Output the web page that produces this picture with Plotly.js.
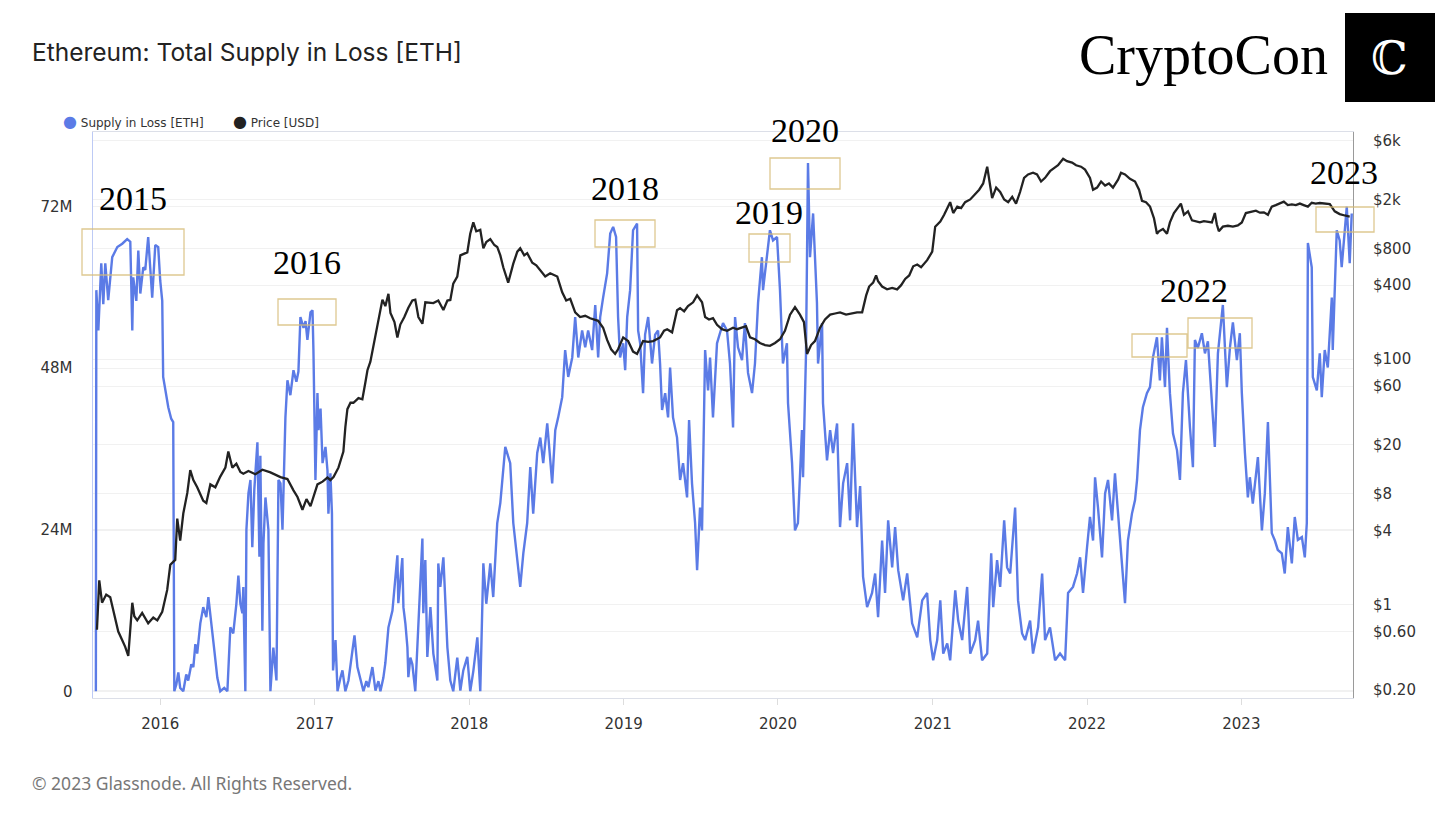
<!DOCTYPE html>
<html>
<head>
<meta charset="utf-8">
<script src="https://cdn.plot.ly/plotly-3.0.1.min.js"></script>
<style>
  html, body { margin: 0; padding: 0; background: #ffffff; }
  #chart { width: 1456px; height: 819px; }
</style>
</head>
<body>
<div id="chart"></div>
<script>
// ---------------- DATA (decimal year, value) ----------------
// Supply in Loss, millions of ETH
const supplyInLoss = [
[2015.583,0],[2015.586,59.6],[2015.599,53.6],[2015.618,63.6],[2015.631,57.5],[2015.644,63.6],[2015.663,58.1],[2015.689,64.5],
[2015.722,66],[2015.754,66.5],[2015.786,67.2],[2015.806,66.8],[2015.819,53.6],[2015.825,61.5],[2015.845,58],[2015.858,65.5],
[2015.871,59.1],[2015.890,63],[2015.903,62.6],[2015.922,67.5],[2015.935,63],[2015.948,58.5],[2015.968,66.3],[2015.987,66],
[2016.000,61],[2016.013,58],[2016.019,46.7],[2016.039,44],[2016.052,42.2],[2016.071,40.5],[2016.084,40],[2016.091,0],
[2016.104,1],[2016.117,2.8],[2016.129,0.5],[2016.149,0],[2016.168,2.5],[2016.181,1.6],[2016.201,4],[2016.214,3.6],
[2016.227,7],[2016.239,5.6],[2016.259,10.1],[2016.278,12.5],[2016.298,11],[2016.311,14],[2016.324,11],[2016.337,9],
[2016.350,6],[2016.369,2],[2016.388,0],[2016.414,0.5],[2016.434,0],[2016.453,9.5],[2016.472,8.6],[2016.492,13],
[2016.505,17.2],[2016.518,13],[2016.531,11.6],[2016.537,15.5],[2016.550,0],[2016.557,24],[2016.570,29.4],[2016.583,31.4],
[2016.595,21.4],[2016.608,30],[2016.628,37],[2016.641,20],[2016.647,35],[2016.660,9],[2016.667,22],[2016.680,28.8],
[2016.699,24],[2016.712,0],[2016.731,6.5],[2016.751,1.6],[2016.764,31.4],[2016.777,30.9],[2016.790,24],[2016.809,40.7],
[2016.822,46.2],[2016.841,44],[2016.861,47.7],[2016.880,46],[2016.893,47.5],[2016.906,55.6],[2016.926,54],[2016.939,55],
[2016.951,52.2],[2016.971,56.3],[2016.984,56.6],[2016.990,50.7],[2017.003,31.4],[2017.016,44.3],[2017.023,38.8],[2017.036,42],
[2017.049,33.9],[2017.068,36.3],[2017.081,32.8],[2017.087,26.4],[2017.100,32.4],[2017.110,26.4],[2017.117,3.1],[2017.133,7.6],
[2017.146,0],[2017.165,2],[2017.178,3.1],[2017.197,0],[2017.217,1.6],[2017.243,6.1],[2017.256,8.3],[2017.275,3.6],
[2017.294,1.6],[2017.314,0],[2017.333,1.5],[2017.346,0.6],[2017.372,3.6],[2017.392,0.1],[2017.411,1.5],[2017.424,0],
[2017.443,2],[2017.456,4.2],[2017.476,9.5],[2017.502,12],[2017.521,16.9],[2017.534,20.2],[2017.540,13.1],[2017.553,17],
[2017.566,19.8],[2017.573,12.5],[2017.586,10],[2017.599,6.5],[2017.605,2.1],[2017.618,5],[2017.631,4],[2017.650,0],
[2017.670,11],[2017.696,22.7],[2017.702,11.6],[2017.715,19.5],[2017.728,5.1],[2017.748,12.5],[2017.767,5.6],[2017.793,1.6],
[2017.799,19],[2017.812,15.5],[2017.832,19.9],[2017.845,12.5],[2017.858,6.5],[2017.877,1.6],[2017.896,0],[2017.922,5],
[2017.942,0.1],[2017.961,3.1],[2017.987,5.1],[2018.006,0],[2018.026,3],[2018.052,8],[2018.071,0],[2018.091,19],
[2018.110,13],[2018.136,19],[2018.155,14],[2018.181,25],[2018.201,28],[2018.233,36.3],[2018.265,33.9],[2018.285,25],
[2018.311,19.9],[2018.330,15.5],[2018.350,20.5],[2018.375,25],[2018.395,33.3],[2018.414,26.4],[2018.440,35.4],[2018.460,37.7],
[2018.479,33.9],[2018.505,39.8],[2018.537,30.9],[2018.557,38.8],[2018.576,40.7],[2018.602,43.7],[2018.621,50.7],[2018.641,46.7],
[2018.667,49.6],[2018.686,55.6],[2018.706,49.6],[2018.731,53.6],[2018.751,51.1],[2018.770,53.6],[2018.796,50.7],[2018.816,57.4],
[2018.835,49.6],[2018.848,55.6],[2018.867,58.5],[2018.893,62.1],[2018.913,68],[2018.932,69],[2018.951,67.5],[2018.964,55.6],
[2018.977,49.6],[2018.997,51.7],[2019.010,47.7],[2019.023,55.6],[2019.042,59.6],[2019.061,68.5],[2019.087,69.5],[2019.094,53.6],
[2019.107,51.7],[2019.126,44.3],[2019.139,53],[2019.159,55.6],[2019.184,48.7],[2019.204,53],[2019.223,53.6],[2019.236,48.7],
[2019.249,41.8],[2019.269,44.3],[2019.288,40.7],[2019.301,48.1],[2019.320,40.7],[2019.346,37.7],[2019.366,31.4],[2019.385,33.9],
[2019.411,28.8],[2019.424,40.3],[2019.443,30.9],[2019.463,25],[2019.476,18],[2019.495,27.3],[2019.508,23.9],[2019.528,50.7],
[2019.547,44.7],[2019.560,49.6],[2019.579,40.7],[2019.605,51.7],[2019.624,53.2],[2019.644,54.7],[2019.670,53.6],[2019.689,48.7],
[2019.709,39.2],[2019.722,55.6],[2019.741,51.1],[2019.767,49.2],[2019.786,54.7],[2019.806,47.3],[2019.832,44.3],[2019.851,48.7],
[2019.871,57.7],[2019.896,64.5],[2019.903,59.6],[2019.929,64.5],[2019.948,68.5],[2019.968,67],[2019.994,67.5],[2020.013,59.6],
[2020.026,52.6],[2020.032,48.7],[2020.058,51.7],[2020.065,42.8],[2020.091,33.9],[2020.110,23.9],[2020.129,25],[2020.155,38.8],
[2020.162,31.8],[2020.181,50],[2020.194,78.5],[2020.207,64.5],[2020.227,71],[2020.239,63.6],[2020.252,57.7],[2020.259,48.7],
[2020.285,54.7],[2020.291,42.8],[2020.317,34.3],[2020.337,38.8],[2020.356,35.4],[2020.382,39.8],[2020.401,24.4],[2020.421,30.9],
[2020.447,33.9],[2020.466,25.4],[2020.485,39.8],[2020.511,24.4],[2020.531,30.5],[2020.550,17],[2020.576,12.5],[2020.608,14.6],
[2020.628,17.5],[2020.647,11],[2020.673,22.4],[2020.692,14.6],[2020.712,25.4],[2020.738,18.4],[2020.757,24.4],[2020.777,18],
[2020.809,13.5],[2020.835,17.5],[2020.867,10.1],[2020.900,8],[2020.932,13.5],[2020.964,14.6],[2020.984,7.6],[2021.003,4.6],
[2021.029,7.6],[2021.049,13.5],[2021.068,5.6],[2021.094,7.1],[2021.113,4.6],[2021.146,15],[2021.165,10.5],[2021.191,7.6],
[2021.223,15.5],[2021.243,5.6],[2021.275,7.6],[2021.294,10.5],[2021.320,4.6],[2021.353,5.6],[2021.379,20.5],[2021.392,12.5],
[2021.417,19.5],[2021.437,15.5],[2021.463,25.4],[2021.482,18.4],[2021.502,17.5],[2021.534,27.3],[2021.553,13.5],[2021.579,8.6],
[2021.599,7.6],[2021.631,10.5],[2021.650,5.6],[2021.683,9.5],[2021.709,17.5],[2021.728,7.6],[2021.760,9.5],[2021.793,4.6],
[2021.825,5.6],[2021.858,4.6],[2021.877,14.6],[2021.909,15.5],[2021.935,17.5],[2021.955,19.9],[2021.974,14.6],[2022.000,21.4],
[2022.019,25.9],[2022.039,22.4],[2022.052,31.8],[2022.071,27.3],[2022.097,19.9],[2022.117,29.4],[2022.136,31.4],[2022.162,25.4],
[2022.181,32.4],[2022.201,26.4],[2022.227,18.4],[2022.246,13.1],[2022.265,22.4],[2022.291,26.4],[2022.311,28.4],[2022.324,31.4],
[2022.343,38.8],[2022.362,42.2],[2022.388,44.3],[2022.408,45.2],[2022.427,49.6],[2022.453,52.6],[2022.472,46.2],[2022.485,52.6],
[2022.505,45.2],[2022.518,54],[2022.537,44.3],[2022.557,38.3],[2022.583,35.8],[2022.602,31.4],[2022.621,44.3],[2022.641,49.2],
[2022.667,39.2],[2022.686,33.3],[2022.699,52.2],[2022.718,51],[2022.744,53.2],[2022.764,50.2],[2022.783,52],[2022.809,43.2],
[2022.828,36.3],[2022.848,50.2],[2022.874,56.2],[2022.880,57.4],[2022.906,45.2],[2022.926,51.1],[2022.945,54.8],[2022.971,49.2],
[2022.990,53.2],[2023.003,44.3],[2023.023,35.4],[2023.042,28.8],[2023.055,31.8],[2023.074,27.9],[2023.107,34.8],[2023.133,23.9],
[2023.152,29.4],[2023.172,40],[2023.197,23.5],[2023.217,22.4],[2023.236,21],[2023.262,20.5],[2023.281,17.5],[2023.301,24.4],
[2023.327,19],[2023.346,25.9],[2023.366,22.5],[2023.392,22.9],[2023.411,19.9],[2023.424,25],[2023.431,66.6],[2023.456,63],
[2023.463,46.7],[2023.489,44.7],[2023.508,50.2],[2023.521,43.7],[2023.540,50.7],[2023.560,48.1],[2023.586,58.5],[2023.592,50.7],
[2023.618,68.5],[2023.637,67],[2023.650,63],[2023.670,69],[2023.683,72],[2023.702,63.6],[2023.715,71]
];

// ETH price, USD
const priceUSD = [
[2015.590,0.62],[2015.605,1.57],[2015.623,1.03],[2015.650,1.2],[2015.676,1.14],[2015.696,0.87],[2015.728,0.6],[2015.754,0.51],
[2015.773,0.45],[2015.793,0.38],[2015.819,1.03],[2015.832,0.8],[2015.851,0.74],[2015.883,0.85],[2015.922,0.7],[2015.955,0.78],
[2015.981,0.74],[2016.013,0.87],[2016.045,1.31],[2016.065,2.1],[2016.097,2.3],[2016.110,5.0],[2016.129,3.3],[2016.149,5.5],
[2016.175,8.1],[2016.194,12.4],[2016.214,10.3],[2016.239,9],[2016.278,7],[2016.298,6.7],[2016.324,9.5],[2016.356,9],
[2016.388,11],[2016.421,13],[2016.440,17.6],[2016.466,13],[2016.492,14],[2016.518,12],[2016.537,11.6],[2016.570,12.2],
[2016.615,11.5],[2016.660,12.5],[2016.712,11.9],[2016.777,10.9],[2016.822,10.5],[2016.861,8.5],[2016.887,7.5],[2016.919,5.9],
[2016.945,7.2],[2016.971,6.3],[2016.997,8],[2017.016,9.5],[2017.049,10],[2017.081,10.8],[2017.100,10.3],[2017.120,10.9],
[2017.152,13],[2017.184,17.6],[2017.197,28],[2017.210,39],[2017.230,44],[2017.249,44],[2017.282,48],[2017.307,47],
[2017.327,65],[2017.340,81],[2017.359,95],[2017.379,128],[2017.405,180],[2017.417,230],[2017.437,305],[2017.456,270],
[2017.476,340],[2017.489,237],[2017.515,200],[2017.534,150],[2017.553,191],[2017.579,220],[2017.605,262],[2017.631,300],
[2017.650,305],[2017.670,220],[2017.696,194],[2017.715,290],[2017.748,290],[2017.767,286],[2017.799,300],[2017.832,251],
[2017.858,300],[2017.877,303],[2017.896,412],[2017.922,470],[2017.942,700],[2017.961,720],[2017.987,740],[2018.006,1050],
[2018.026,1300],[2018.045,1100],[2018.071,1130],[2018.091,800],[2018.110,900],[2018.136,950],[2018.162,850],[2018.181,820],
[2018.201,700],[2018.220,560],[2018.252,420],[2018.285,600],[2018.311,750],[2018.330,800],[2018.356,700],[2018.375,730],
[2018.408,610],[2018.434,580],[2018.460,530],[2018.492,470],[2018.524,500],[2018.570,470],[2018.602,350],[2018.628,300],
[2018.654,310],[2018.686,240],[2018.718,220],[2018.751,225],[2018.783,215],[2018.835,205],[2018.867,180],[2018.893,143],
[2018.919,120],[2018.945,110],[2018.964,120],[2018.997,150],[2019.029,140],[2019.061,115],[2019.087,110],[2019.126,140],
[2019.159,138],[2019.191,140],[2019.236,150],[2019.262,170],[2019.282,175],[2019.314,165],[2019.346,250],[2019.366,260],
[2019.392,245],[2019.417,270],[2019.450,290],[2019.476,330],[2019.508,290],[2019.528,220],[2019.553,210],[2019.579,215],
[2019.605,190],[2019.637,175],[2019.670,170],[2019.709,180],[2019.735,175],[2019.767,180],[2019.793,185],[2019.819,150],
[2019.851,145],[2019.883,135],[2019.916,130],[2019.948,128],[2019.981,135],[2020.013,145],[2020.045,170],[2020.078,230],
[2020.110,265],[2020.142,230],[2020.168,200],[2020.188,110],[2020.214,130],[2020.239,140],[2020.272,180],[2020.304,210],
[2020.337,230],[2020.369,235],[2020.401,240],[2020.440,230],[2020.479,235],[2020.511,240],[2020.544,240],[2020.570,330],
[2020.589,390],[2020.615,420],[2020.634,480],[2020.647,430],[2020.673,390],[2020.705,370],[2020.738,380],[2020.770,370],
[2020.796,400],[2020.822,450],[2020.848,480],[2020.874,570],[2020.900,590],[2020.925,560],[2020.964,640],[2020.997,750],
[2021.016,1200],[2021.049,1320],[2021.074,1500],[2021.094,1700],[2021.113,1900],[2021.133,1550],[2021.159,1750],[2021.184,1700],
[2021.210,1900],[2021.243,2000],[2021.275,2200],[2021.301,2400],[2021.327,2700],[2021.353,3700],[2021.372,2600],[2021.385,2050],
[2021.411,2500],[2021.437,2300],[2021.463,2000],[2021.489,1900],[2021.515,2100],[2021.540,1850],[2021.566,2300],[2021.592,3000],
[2021.618,3200],[2021.650,3300],[2021.676,3200],[2021.702,2800],[2021.728,3000],[2021.760,3400],[2021.786,3600],[2021.812,3800],
[2021.845,4300],[2021.870,4100],[2021.903,4000],[2021.929,3800],[2021.961,3700],[2021.987,3500],[2022.019,3000],[2022.039,2400],
[2022.065,2500],[2022.091,2800],[2022.117,2600],[2022.142,2700],[2022.168,2500],[2022.201,2900],[2022.220,3300],[2022.246,3200],
[2022.278,2950],[2022.311,2800],[2022.337,2400],[2022.356,1950],[2022.382,1900],[2022.408,1750],[2022.434,1400],[2022.453,1050],
[2022.466,1100],[2022.492,1150],[2022.518,1050],[2022.537,1300],[2022.563,1550],[2022.589,1700],[2022.608,1850],[2022.628,1500],
[2022.654,1600],[2022.680,1350],[2022.706,1320],[2022.731,1300],[2022.757,1330],[2022.783,1320],[2022.809,1300],[2022.828,1550],
[2022.841,1250],[2022.854,1100],[2022.880,1200],[2022.913,1220],[2022.945,1200],[2022.977,1230],[2023.003,1300],[2023.029,1550],
[2023.061,1580],[2023.094,1620],[2023.120,1560],[2023.146,1570],[2023.172,1500],[2023.197,1750],[2023.223,1800],[2023.249,1850],
[2023.275,1920],[2023.301,1800],[2023.327,1820],[2023.353,1800],[2023.379,1850],[2023.404,1800],[2023.431,1750],[2023.456,1880],
[2023.482,1850],[2023.508,1870],[2023.540,1840],[2023.573,1830],[2023.605,1600],[2023.637,1520],[2023.670,1480],[2023.702,1450]
];

const xTickYears = ['2016','2017','2018','2019','2020','2021','2022','2023'];
const supplyTickVals = [0, 24, 48, 72];
const supplyTickText = ['0', '24M', '48M', '72M'];
const priceTickVals = [6000, 2000, 800, 400, 100, 60, 20, 8, 4, 1, 0.6, 0.2];
const priceTickText = ['$6k', '$2k', '$800', '$400', '$100', '$60', '$20', '$8', '$4', '$1', '$0.60', '$0.20'];

// Highlight annotations (year label + box), in page pixels
const highlightLabels = [
  {text:'2015', x:133, y:198}, {text:'2016', x:307, y:262}, {text:'2018', x:625, y:188},
  {text:'2019', x:769, y:212}, {text:'2020', x:805, y:130}, {text:'2022', x:1194, y:290},
  {text:'2023', x:1344, y:173}
];
const highlightBoxes = [
  [82,184,229,275],[278,336,299,325],[595,655,220,247],[749,790,234,262],
  [770,840,158,189],[1132,1187,334,357],[1188,1252,318,348],[1316,1374,207,232]
];

// ---------------- helpers ----------------
function decYearToDate(t) {
  const y = Math.floor(t);
  const s = Date.UTC(y, 0, 1), e = Date.UTC(y + 1, 0, 1);
  return new Date(s + (t - y) * (e - s)).toISOString().slice(0, 19).replace('T', ' ');
}
const W = 1456, H = 819;
const M = {l: 93, r: 103, t: 132, b: 121};
const PW = W - M.l - M.r, PH = H - M.t - M.b;
const px2x = px => (px - M.l) / PW;
const px2y = py => (H - M.b - py) / PH;

const BLUE = '#5b7be6';
const traces = [
  {
    x: supplyInLoss.map(p => decYearToDate(p[0])),
    y: supplyInLoss.map(p => p[1]),
    type: 'scatter', mode: 'lines', name: 'Supply in Loss [ETH]',
    line: {color: BLUE, width: 2.4}, yaxis: 'y', showlegend: false, hoverinfo: 'skip'
  },
  {
    x: priceUSD.map(p => decYearToDate(p[0])),
    y: priceUSD.map(p => p[1]),
    type: 'scatter', mode: 'lines', name: 'Price [USD]',
    line: {color: '#222222', width: 2.3}, yaxis: 'y2', showlegend: false, hoverinfo: 'skip'
  }
];

const tickFont = {family: '"DejaVu Sans", sans-serif', size: 15, color: '#333'};

const annotations = [
  {text: 'Ethereum: Total Supply in Loss [ETH]', xref: 'paper', yref: 'paper', x: px2x(30), y: px2y(52),
   xanchor: 'left', yanchor: 'middle', showarrow: false,
   font: {family: 'Inter, "DejaVu Sans", sans-serif', size: 24.5, color: '#222'}},
  {text: '<span style="color:' + BLUE + ';font-size:16px">●</span> Supply in Loss [ETH]', xref: 'paper', yref: 'paper',
   x: px2x(61), y: px2y(121), xanchor: 'left', yanchor: 'middle', showarrow: false,
   font: {family: '"DejaVu Sans", sans-serif', size: 12, color: '#333'}},
  {text: '<span style="color:#222;font-size:16px">●</span> Price [USD]', xref: 'paper', yref: 'paper',
   x: px2x(231), y: px2y(121), xanchor: 'left', yanchor: 'middle', showarrow: false,
   font: {family: '"DejaVu Sans", sans-serif', size: 12, color: '#333'}},
  {text: '© 2023 Glassnode. All Rights Reserved.', xref: 'paper', yref: 'paper', x: px2x(30), y: px2y(783),
   xanchor: 'left', yanchor: 'middle', showarrow: false,
   font: {family: '"Noto Sans", "DejaVu Sans", sans-serif', size: 17.5, color: '#777'}},
  {text: 'CryptoCon', xref: 'paper', yref: 'paper', x: px2x(1203), y: px2y(55),
   xanchor: 'center', yanchor: 'middle', showarrow: false,
   font: {family: '"Liberation Serif", "DejaVu Serif", serif', size: 56, color: '#000'}},
  {text: 'ℂ', xref: 'paper', yref: 'paper', x: px2x(1390), y: px2y(58),
   xanchor: 'center', yanchor: 'middle', showarrow: false,
   font: {family: '"DejaVu Serif", serif', size: 46, color: '#fff'}}
];
highlightLabels.forEach(h => annotations.push({
  text: h.text, xref: 'paper', yref: 'paper', x: px2x(h.x), y: px2y(h.y),
  xanchor: 'center', yanchor: 'middle', showarrow: false,
  font: {family: '"Liberation Serif", "DejaVu Serif", serif', size: 34, color: '#000'}
}));

const shapes = [
  {type: 'rect', xref: 'paper', yref: 'paper', x0: px2x(1345), x1: px2x(1435), y0: px2y(102), y1: px2y(13),
   fillcolor: '#000', line: {width: 0}, layer: 'above'}
];
highlightBoxes.forEach(b => shapes.push({
  type: 'rect', xref: 'paper', yref: 'paper', x0: px2x(b[0]), x1: px2x(b[1]), y0: px2y(b[3]), y1: px2y(b[2]),
  line: {color: 'rgba(214,186,118,0.8)', width: 1.3}, fillcolor: 'rgba(0,0,0,0)', layer: 'above'
}));

const layout = {
  width: W, height: H,
  margin: {l: M.l, r: M.r, t: M.t, b: M.b, pad: 0},
  paper_bgcolor: '#ffffff', plot_bgcolor: '#ffffff',
  showlegend: false,
  xaxis: {
    type: 'date', range: ['2015-07-26', '2023-09-22'],
    tickvals: xTickYears.map(y => y + '-01-01'), ticktext: xTickYears,
    tickfont: tickFont, ticks: 'outside', ticklen: 6, tickcolor: '#dddddd',
    ticklabelstandoff: 6,
    showgrid: false, zeroline: false, showline: true, linecolor: '#dcdfe8', linewidth: 1, mirror: true
  },
  yaxis: {
    range: [-1, 83.1], tickvals: supplyTickVals, ticktext: supplyTickText, tickfont: tickFont,
    ticks: '', ticklabelstandoff: 16,
    showgrid: true, gridcolor: '#f1f1f1', gridwidth: 1, zeroline: false,
    showline: true, linecolor: 'rgba(91,123,230,0.4)', linewidth: 1.5
  },
  yaxis2: {
    type: 'log', range: [-0.764, 3.851], overlaying: 'y', side: 'right',
    tickvals: priceTickVals, ticktext: priceTickText, tickfont: tickFont,
    ticks: '', ticklabelstandoff: 16,
    showgrid: true, gridcolor: '#f1f1f1', gridwidth: 1, zeroline: false,
    showline: true, linecolor: '#9a9a9a', linewidth: 1
  },
  annotations: annotations,
  shapes: shapes
};

Plotly.newPlot('chart', traces, layout, {displayModeBar: false, staticPlot: true});
</script>
</body>
</html>
